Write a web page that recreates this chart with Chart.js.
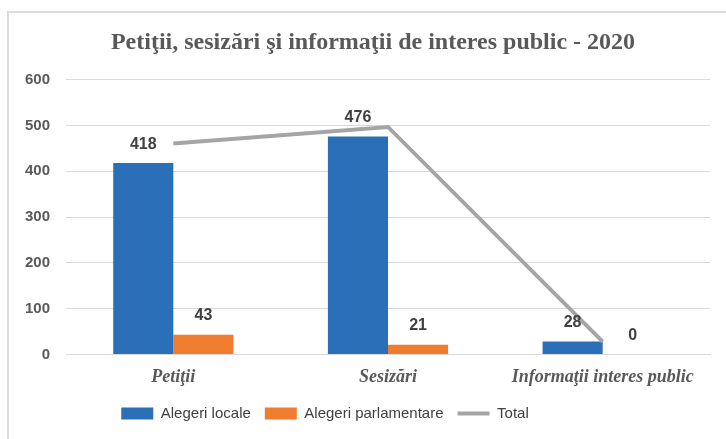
<!DOCTYPE html>
<html>
<head>
<meta charset="utf-8">
<script src="https://cdn.jsdelivr.net/npm/chart.js@4"></script>
<style>
  html, body { margin: 0; padding: 0; background: #fff; }
  #frame { position: absolute; left: 7px; top: 11px; width: 740px; height: 450px; border: 2px solid #dcdcdc; box-sizing: border-box; }
  #wrap { position: absolute; left: 0; top: 0; width: 726px; height: 439px; }
</style>
</head>
<body>
<div id="frame"></div>
<div id="wrap"><canvas id="chart" width="726" height="439"></canvas></div>
<script>
// Date
const categories = ["Petiţii", "Sesizări", "Informaţii interes public"];
const alegeriLocale = [418, 476, 28];
const alegeriParlamentare = [43, 21, 0];
const total = [461, 497, 28];
const yTicks = [0, 100, 200, 300, 400, 500, 600];

const blue = "#2B6FB9";
const orange = "#F07D2F";
const gray = "#A5A5A5";

// Etichete deasupra barelor
const barLabels = {
    id: 'barLabels',
    afterLayout(chart) {
        // legenda e putin spre stanga, titlul putin spre dreapta in original
        chart.legend.left -= 30;
        chart.legend.right -= 30;
        chart.titleBlock.left += 18;
        chart.titleBlock.right += 18;
    },
    afterDatasetsDraw(chart) {
        const ctx = chart.ctx;
        ctx.save();
        ctx.font = "bold 16px 'Liberation Sans', Arial, sans-serif";
        ctx.fillStyle = "#404040";
        ctx.textAlign = "center";
        ctx.textBaseline = "middle";
        [0, 1].forEach(i => {
            const meta = chart.getDatasetMeta(i);
            meta.data.forEach((bar, j) => {
                const v = chart.data.datasets[i].data[j];
                ctx.fillText(String(v), bar.x, bar.y - 19);
            });
        });
        ctx.restore();
    }
};

new Chart(document.getElementById('chart'), {
    data: {
        labels: categories,
        datasets: [
            { type: 'bar', label: 'Alegeri locale', data: alegeriLocale, backgroundColor: blue, borderWidth: 0, order: 2 },
            { type: 'bar', label: 'Alegeri parlamentare', data: alegeriParlamentare, backgroundColor: orange, borderWidth: 0, order: 2 },
            { type: 'line', label: 'Total', data: total, borderColor: gray, backgroundColor: gray, borderWidth: 4, pointRadius: 0, tension: 0, order: 1 }
        ]
    },
    options: {
        responsive: false,
        animation: false,
        layout: { padding: { left: 0, right: 16, bottom: 8 } },
        datasets: { bar: { categoryPercentage: 0.56, barPercentage: 1 } },
        plugins: {
            title: {
                display: true,
                text: 'Petiţii, sesizări şi informaţii de interes public - 2020',
                color: '#595959',
                font: { family: "'Liberation Serif', 'Times New Roman', serif", size: 24, weight: 'bold' },
                padding: { top: 28, bottom: 23 }
            },
            legend: {
                position: 'bottom',
                labels: {
                    usePointStyle: true,
                    pointStyleWidth: 32,
                    boxHeight: 12,
                    padding: 14,
                    color: '#404040',
                    font: { family: "'Liberation Sans', Arial, sans-serif", size: 15 },
                    generateLabels(chart) {
                        return chart.data.datasets.map((ds, i) => ({
                            text: ds.label,
                            fillStyle: ds.type === 'line' ? gray : ds.backgroundColor,
                            strokeStyle: ds.type === 'line' ? gray : ds.backgroundColor,
                            lineWidth: ds.type === 'line' ? 4 : 0,
                            pointStyle: ds.type === 'line' ? 'line' : 'rect',
                            fontColor: '#404040',
                            datasetIndex: i,
                            hidden: false
                        }));
                    }
                }
            },
            tooltip: { enabled: false }
        },
        scales: {
            x: {
                grid: { display: false },
                border: { color: '#d9d9d9' },
                ticks: {
                    color: '#595959',
                    padding: 4,
                    font: { family: "'Liberation Serif', 'Times New Roman', serif", size: 18, weight: 'bold', style: 'italic' }
                }
            },
            y: {
                min: 0,
                max: 600,
                afterBuildTicks: s => { s.ticks = yTicks.map(v => ({ value: v })); },
                afterFit: s => { s.width = 66; },
                grid: { color: '#d9d9d9', drawTicks: false },
                border: { display: false },
                ticks: {
                    color: '#595959',
                    padding: 16,
                    font: { family: "'Liberation Sans', Arial, sans-serif", size: 15, weight: 'bold' }
                }
            }
        }
    },
    plugins: [barLabels]
});
</script>
</body>
</html>
